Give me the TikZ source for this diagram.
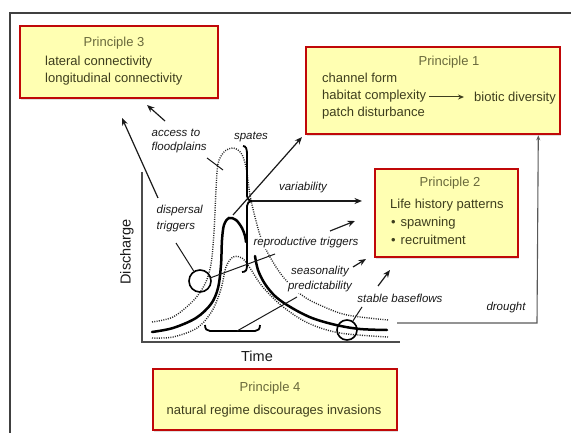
\documentclass[tikz,border=0pt]{standalone}
\usepackage{fontspec}
\setmainfont{Liberation Sans}
\usetikzlibrary{arrows.meta,shadows}
\definecolor{boxfill}{RGB}{255,255,178}
\definecolor{boxline}{RGB}{192,8,8}
\definecolor{ttl}{RGB}{105,105,60}
\definecolor{bdy}{RGB}{62,62,30}
\begin{document}
\begin{tikzpicture}[x=1pt,y=-1pt,
  pbox/.style={draw=boxline, line width=2.6pt, fill=boxfill, inner sep=0pt,
     drop shadow={shadow xshift=1pt,shadow yshift=-2pt,opacity=0.25}},
  ptitle/.style={font=\fontsize{13}{15}\selectfont, text=ttl, inner sep=0pt, text height=9.4pt, text depth=2.7pt},
  pbody/.style={font=\fontsize{13}{15}\selectfont, text=bdy, inner sep=0pt, text height=9.4pt, text depth=2.7pt},
  lab/.style={font=\fontsize{11.5}{13}\selectfont\itshape, text=black!90, inner sep=0.5pt},
  axl/.style={font=\fontsize{14.5}{16}\selectfont, text=black!90, inner sep=0pt},
  arr/.style={-{Stealth[length=7.5pt,width=6pt]}, line width=1.2pt, draw=black!90},
  solidc/.style={line width=2.5pt, draw=black, line cap=round},
  dotc/.style={line width=1.4pt, draw=black!85, dash pattern=on 1pt off 1.3pt},
  thin/.style={line width=1pt, draw=black!90},
  brc/.style={line width=1.8pt, draw=black}
]
\useasboundingbox (0,0) rectangle (571,433);
% outer frame
\draw[line width=1.2pt, draw=black!75] (10,433) -- (10,13) -- (571,13);

% Principle boxes
\node[pbox, minimum width=198pt, minimum height=72pt] (p3) at (119,62) {};
\node[ptitle] (p3t) at (114,43) {Principle 3};
\node[pbody, anchor=west] (p3a) at (45,62) {lateral connectivity};
\node[pbody, anchor=west] (p3b) at (45,79) {longitudinal connectivity};

\node[pbox, minimum width=254pt, minimum height=87pt] (p1) at (433,90.5) {};
\node[ptitle] (p1t) at (449,62) {Principle 1};
\node[pbody, anchor=west] (p1a) at (322,79) {channel form};
\node[pbody, anchor=west] (p1b) at (322,96) {habitat complexity};
\node[pbody, anchor=west] (p1c) at (322,113) {patch disturbance};
\node[pbody, anchor=west] (p1d) at (474,98) {biotic diversity};
\coordinate (hb) at (429,97);
\coordinate (bd) at (464,97);
\draw[-{Stealth[length=6pt,width=5pt]}, line width=1pt, draw=bdy] (hb) -- (bd);

\node[pbox, minimum width=143pt, minimum height=88pt] (p2) at (446.5,213) {};
\node[ptitle] (p2t) at (450,183) {Principle 2};
\node[pbody, anchor=west] (p2a) at (390,205) {Life history patterns};
\node[pbody, anchor=west] (p2b) at (391,223) {\textbullet\hspace{5pt}spawning};
\node[pbody, anchor=west] (p2c) at (391,241) {\textbullet\hspace{5pt}recruitment};

\node[pbox, minimum width=244pt, minimum height=61pt] (p4) at (275,399.5) {};
\node[ptitle] (p4t) at (270,388) {Principle 4};
\node[pbody] (p4a) at (274,411) {natural regime discourages invasions};

% axes
\draw[line width=1.1pt, draw=black!70] (142,172) -- (142,342) -- (400,342);
\node[axl, rotate=90] (dis) at (127,252) {Discharge};
\node[axl] (tim) at (257,356) {Time};

% envelopes (dotted)
\draw[dotc] plot[smooth, tension=0.55] coordinates {(152,322) (173,317) (193,301) (205,284) (211,264) (214,232) (216,190) (218,164) (224,152) (233,148) (241,153) (246,167) (250,195) (255,217) (261,238) (270,257) (284,278) (303,296) (322,306) (347,315) (388,320)};
\draw[dotc] plot[smooth, tension=0.55] coordinates {(152,338) (173,337) (197,328) (212,311) (221,289) (226,267) (233,257) (242,258) (250,268) (262,286) (282,306) (308,323) (340,333) (388,337)};

% discharge curve (solid)
\draw[solidc] plot[smooth, tension=0.55] coordinates {(152,332) (173,328) (196,318) (211,304) (218,288) (221,265) (222,240) (224,225) (229,218) (236,220) (242,228) (245,236) (246,242)};
\draw[solidc] plot[smooth, tension=0.55] coordinates {(255,256) (258,270) (265,284) (276,297) (292,308) (312,318) (336,325) (360,329) (387,330)};

% spates brace
\draw[brc] (243,146) .. controls (246,146) and (247,149) .. (247,154) -- (247,196)
  .. controls (247,199) and (249,201) .. (252,201) coordinate (vb)
  .. controls (249,201) and (247,203) .. (247,206) -- (247,265)
  .. controls (247,270) and (246,272) .. (242,272);
% bottom brace
\draw[brc] (205,325) .. controls (205,329) and (207,331) .. (210,331) -- (237,331) coordinate (bb)
  -- (255,331) .. controls (258,331) and (260,329) .. (260,325);

% circles
\node[circle, draw=black, line width=1.6pt, minimum size=22pt, inner sep=0pt] (c1) at (200,281) {};
\node[circle, draw=black, line width=1.6pt, minimum size=20pt, inner sep=0pt] (c2) at (347,330) {};

% small tick on envelope
\coordinate (t1) at (207,158);
\coordinate (t2) at (223,170);
\draw[thin] (t1) -- (t2);

% labels
\node[lab, anchor=west] (acc) at (151,133) {access to};
\node[lab, anchor=west] (fld) at (151,148) {floodplains};
\node[lab] (spa) at (251,137) {spates};
\node[lab] (var) at (303,188) {variability};
\node[lab, anchor=west] (dis1) at (156,211) {dispersal};
\node[lab, anchor=west] (dis2) at (156,227) {triggers};
\node[lab, fill=white] (rep) at (306,243) {reproductive triggers};
\node[lab, fill=white] (sea) at (320,272) {seasonality};
\node[lab, fill=white] (pre) at (320,287) {predictability};
\node[lab] (sta) at (400,298) {stable baseflows};
\node[lab] (dro) at (506,308) {drought};

% leader lines
\coordinate (d1) at (210,278);
\coordinate (d2) at (275,254);
\draw[thin] (d1) -- (d2);
\coordinate (dl) at (176,243);
\draw[thin] (dl) -- (c1);
\coordinate (pl) at (297,297);
\draw[thin] (bb) -- (pl);
\coordinate (sl) at (362,307);
\draw[thin] (c2) -- (sl);

% arrows
\coordinate (a1s) at (158,198); \coordinate (a1e) at (122,118);
\draw[arr] (a1s) -- (a1e);
\coordinate (a2s) at (165,121); \coordinate (a2e) at (147,105);
\draw[arr] (a2s) -- (a2e);
\coordinate (sps) at (233,215); \coordinate (spe) at (302,137);
\draw[arr] (sps) -- (spe);
\coordinate (vae) at (362,201);
\draw[arr] (vb) -- (vae);
\coordinate (r1) at (330,231); \coordinate (r2) at (355,221);
\draw[arr] (r1) -- (r2);
\coordinate (s1) at (353,267); \coordinate (s2) at (366,259);
\draw[arr] (s1) -- (s2);
\coordinate (b1) at (378,286); \coordinate (b2) at (390,270);
\draw[arr] (b1) -- (b2);
\coordinate (dr0) at (397,323);
\draw[-{Stealth[length=5pt,width=4pt]}, line width=1.1pt, draw=black!65] (dr0) -- (537,323) -- ([xshift=-23pt]p1.south east);
\end{tikzpicture}
\end{document}
